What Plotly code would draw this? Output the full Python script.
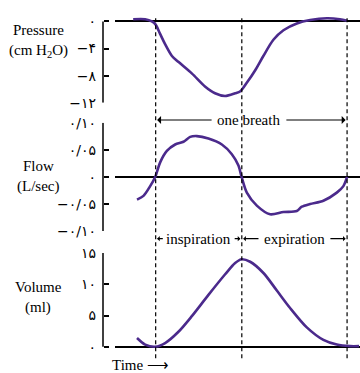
import plotly.graph_objects as go

# ---------------- data ----------------
# time in seconds; one breath from 0 to 4 s, inspiration ends at 1.8 s
breath_marks = [0.0, 1.8, 4.0]

pressure_t = [-0.47, -0.22, -0.08, 0.0, 0.09, 0.2, 0.34, 0.48, 0.76, 1.03, 1.24, 1.45,
              1.66, 1.77, 1.9, 2.08, 2.25, 2.46, 2.67, 2.95, 3.23, 3.58, 3.85, 4.0]
pressure = [0.32, 0.32, 0.0, -0.47, -1.8, -3.4, -5.1, -6.0, -7.7, -9.6, -10.6, -11.0,
            -10.6, -10.3, -9.1, -7.2, -5.1, -2.7, -1.3, -0.3, 0.2, 0.46, 0.32, 0.1]

flow_t = [-0.39, -0.255, -0.115, -0.01, 0.094, 0.234, 0.407, 0.581, 0.721, 0.861, 1.103,
          1.383, 1.592, 1.73, 1.796, 1.905, 2.114, 2.392, 2.67, 2.949, 3.054, 3.227,
          3.505, 3.785, 3.923, 4.0]
flow = [-0.042, -0.035, -0.017, 0.0, 0.027, 0.048, 0.060, 0.065, 0.074, 0.0755, 0.071,
        0.060, 0.042, 0.021, 0.0, -0.029, -0.053, -0.069, -0.065, -0.063, -0.055, -0.050,
        -0.044, -0.029, -0.017, 0.0]

volume_t = [-0.39, -0.22, -0.01, 0.198, 0.476, 0.756, 1.103, 1.452, 1.661, 1.796, 1.974,
            2.252, 2.532, 2.809, 3.158, 3.505, 3.785, 4.063, 4.25]
volume = [1.4, 0.35, 0.0, 0.6, 2.4, 4.9, 8.3, 11.6, 13.4, 14.0, 13.6, 11.8, 9.0, 6.2,
          3.1, 1.1, 0.35, 0.1, 0.1]

pressure_ticks = [0, -4, -8, -12]
pressure_ticktext = ["۰", "−۴", "−۸", "−۱۲"]
flow_ticks = [0.10, 0.05, 0.0, -0.05, -0.10]
flow_ticktext = ["۰/۱۰", "۰/۰۵", "۰", "−۰/۰۵", "−۰/۱۰"]
volume_ticks = [15, 10, 5, 0]
volume_ticktext = ["۱۵", "۱۰", "۵", "۰"]

# ---------------- layout helpers ----------------
W, H = 360, 373
SERIF = "'Liberation Serif', serif"
TICKFONT = "'DejaVu Sans', sans-serif"
PURPLE = "#4B2A8C"


def py(px):
    return 1 - px / H


def px_x(px):
    return px / W


x_range = [-0.85, 4.27]
x_domain = [px_x(115), 1.0]
axis_pos = px_x(103)

fig = go.Figure()
fig.add_trace(go.Scatter(x=pressure_t, y=pressure, mode="lines", xaxis="x", yaxis="y",
                         line=dict(color=PURPLE, width=2.6, shape="spline", smoothing=0.8),
                         showlegend=False, hoverinfo="skip"))
fig.add_trace(go.Scatter(x=flow_t, y=flow, mode="lines", xaxis="x2", yaxis="y2",
                         line=dict(color=PURPLE, width=2.6, shape="spline", smoothing=0.8),
                         showlegend=False, hoverinfo="skip"))
fig.add_trace(go.Scatter(x=volume_t, y=volume, mode="lines", xaxis="x3", yaxis="y3",
                         line=dict(color=PURPLE, width=2.6, shape="spline", smoothing=0.8),
                         showlegend=False, hoverinfo="skip"))


def yax(domain, rng, tickvals, ticktext):
    return dict(domain=domain, range=rng, anchor="free", position=axis_pos,
                tickmode="array", tickvals=tickvals, ticktext=ticktext,
                ticks="inside", ticklen=5, tickwidth=1.5, tickcolor="black",
                ticklabelstandoff=7,
                showgrid=False, showline=False, zeroline=True, zerolinecolor="black",
                zerolinewidth=1.5, fixedrange=True,
                tickfont=dict(family=TICKFONT, size=14, color="black"))


def xax(anchor):
    return dict(domain=x_domain, range=x_range, anchor=anchor, visible=False,
                showgrid=False, zeroline=False, fixedrange=True)


fig.update_layout(
    width=W, height=H, margin=dict(l=0, r=0, t=0, b=0),
    paper_bgcolor="white", plot_bgcolor="white",
    xaxis=xax("y"), xaxis2=xax("y2"), xaxis3=xax("y3"),
    yaxis=yax([py(99), py(8)], [-12, 0.85], pressure_ticks, pressure_ticktext),
    yaxis2=yax([py(233), py(120)], [-0.10, 0.10], flow_ticks, flow_ticktext),
    yaxis3=yax([py(355.6), py(256)], [-0.25, 15], volume_ticks, volume_ticktext),
    font=dict(family=SERIF, size=15, color="black"),
)

shapes = []
# vertical axis lines spanning the tick range
for yref, ticks in (("y", pressure_ticks), ("y2", flow_ticks), ("y3", volume_ticks)):
    shapes.append(dict(type="line", xref="paper", yref=yref, x0=axis_pos, x1=axis_pos,
                       y0=min(ticks), y1=max(ticks), line=dict(color="black", width=1.5)))
# dashed breath markers
for t in breath_marks:
    shapes.append(dict(type="line", xref="x", yref="paper", x0=t, x1=t,
                       y0=py(366), y1=py(9),
                       line=dict(color="black", width=1.2, dash="4px,3px")))
fig.update_layout(shapes=shapes)

ann = []
# axis titles
for text, ypx in (("Pressure", 23), ("(cm H<sub>2</sub>O)", 45),
                  ("Flow", 165), ("(L/sec)", 187),
                  ("Volume", 292), ("(ml)", 313)):
    ann.append(dict(text=text, xref="paper", yref="paper", x=px_x(38), y=py(ypx),
                    xanchor="center", yanchor="middle", showarrow=False,
                    font=dict(family=SERIF, size=15)))


def labelled_span(text, left, right, center, half, ypx, head=1, size=1.0):
    """text centred at `center` with arrows out to `left` and `right`."""
    yv = py(ypx)
    out = [dict(text=text, xref="x", yref="paper", x=center, y=yv,
                xanchor="center", yanchor="middle", showarrow=False,
                font=dict(family=SERIF, size=15))]
    for tip, tail in ((left + 0.03, center - half), (right - 0.03, center + half)):
        out.append(dict(text="", xref="x", yref="paper", x=tip, y=yv,
                        axref="x", ax=tail, ayref="pixel", ay=0,
                        showarrow=True, arrowhead=head, arrowsize=size,
                        arrowwidth=1.1, arrowcolor="black"))
    return out


t0, tm, t1 = breath_marks
ann += labelled_span("one breath", t0, t1, (t0 + t1) / 2 - 0.05, 0.75, 117, 1, 1.2)
ann += labelled_span("inspiration", t0, tm, (t0 + tm) / 2, 0.72, 241, 1, 0.8)
ann += labelled_span("expiration", tm, t1, (tm + t1) / 2, 0.72, 241, 1, 0.8)

# time label
ann.append(dict(text="Time ⟶", xref="paper", yref="paper", x=px_x(110), y=py(373),
                xanchor="left", yanchor="middle", showarrow=False,
                font=dict(family=SERIF, size=15)))

fig.update_layout(annotations=ann)

fig.write_html("out.html")
